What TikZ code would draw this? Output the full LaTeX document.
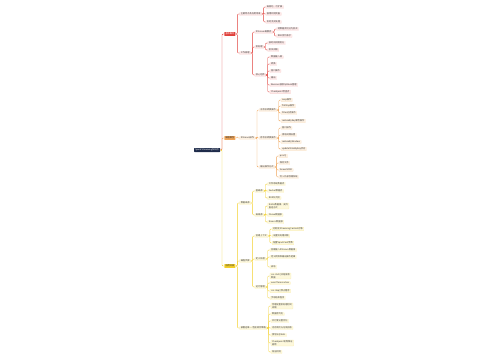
\documentclass[tikz,border=0pt]{standalone}
\usepackage{fontspec}
\setmainfont{Noto Sans CJK SC}
\usetikzlibrary{calc}
\definecolor{cred}{HTML}{E0413C}
\definecolor{cora}{HTML}{EFA55A}
\definecolor{cyel}{HTML}{F2CF2A}
\definecolor{croot}{HTML}{1E2B4A}
\definecolor{pred}{HTML}{FDE9E8}
\definecolor{pora}{HTML}{FDF1E2}
\definecolor{pyel}{HTML}{FDF8DC}
\newcommand\kid[6]{\node[#1] (#3) at ([xshift=4pt]#4.east |- 0,#5) {#6};
  \draw[#2] (#4.east) -- ++(1.8,0) |- (#3.west);}
\begin{document}
\begin{tikzpicture}[x=1pt,y=-1pt,
  base/.style={anchor=west,font=\fontsize{2.2}{2.7}\selectfont,inner xsep=1.1pt,inner ysep=0.6pt,rounded corners=0.4pt,text=black!75,align=left},
  lr/.style={base,fill=pred,draw=cred!25,line width=0.15pt},
  lo/.style={base,fill=pora,draw=cora!30,line width=0.15pt},
  ly/.style={base,fill=pyel,draw=cyel!40,line width=0.15pt},
  br/.style={base,fill=cred,text=white,inner ysep=0.8pt},
  bo/.style={base,fill=cora,text=black!80,inner ysep=0.8pt},
  by/.style={base,fill=cyel,text=black!80,inner ysep=0.8pt},
  er/.style={draw=cred,line width=0.4pt,rounded corners=1pt},
  eo/.style={draw=cora,line width=0.4pt,rounded corners=1pt},
  ey/.style={draw=cyel,line width=0.4pt,rounded corners=1pt}]
\useasboundingbox (0,0) rectangle (500,360);
\node[base,fill=croot,text=white,inner ysep=0.8pt] (root) at (194,150) {Spark Streaming知识点};
% red branch
\kid{br}{er}{R}{root}{34}{基本概念}
\kid{lr}{er}{A1}{R}{14}{主要特点及应用场景}
\kid{lr}{er}{A11}{A1}{7}{高吞吐、可扩展}
\kid{lr}{er}{A12}{A1}{14}{容错机制完善}
\kid{lr}{er}{A13}{A1}{22}{实时流式处理}
\kid{lr}{er}{A2}{R}{53}{工作原理}
\kid{lr}{er}{A2a}{A2}{32}{DStream离散流}
\kid{lr}{er}{A2a1}{A2a}{29}{将数据流切分为批次}
\kid{lr}{er}{A2a2}{A2a}{36}{RDD序列表示}
\kid{lr}{er}{A2b}{A2}{47}{批处理}
\kid{lr}{er}{A2b1}{A2b}{43}{按时间间隔划分}
\kid{lr}{er}{A2b2}{A2b}{50}{批次间隔}
\kid{lr}{er}{A2c}{A2}{75}{核心组件}
\kid{lr}{er}{A2c1}{A2c}{57}{数据输入源}
\kid{lr}{er}{A2c2}{A2c}{64}{转换}
\kid{lr}{er}{A2c3}{A2c}{71}{窗口操作}
\kid{lr}{er}{A2c4}{A2c}{78}{输出}
\kid{lr}{er}{A2c5}{A2c}{85}{Receiver接收与Block管理}
\kid{lr}{er}{A2c6}{A2c}{92}{Checkpoint检查点}
% orange branch
\kid{bo}{eo}{O}{root}{138}{编程模型}
\kid{lo}{eo}{B1}{O}{138}{DStream操作}
\kid{lo}{eo}{B1a}{B1}{110}{无状态转换操作}
\kid{lo}{eo}{B1a1}{B1a}{100}{map操作}
\kid{lo}{eo}{B1a2}{B1a}{106}{flatMap操作}
\kid{lo}{eo}{B1a3}{B1a}{113}{filter过滤操作}
\kid{lo}{eo}{B1a4}{B1a}{121}{reduceByKey聚合操作}
\kid{lo}{eo}{B1b}{B1}{138}{有状态转换操作}
\kid{lo}{eo}{B1b1}{B1b}{128}{窗口操作}
\kid{lo}{eo}{B1b2}{B1b}{135}{滑动间隔设置}
\kid{lo}{eo}{B1b3}{B1b}{142}{reduceByWindow}
\kid{lo}{eo}{B1b4}{B1b}{149}{updateStateByKey状态}
\kid{lo}{eo}{B1c}{B1}{167}{输出操作方式}
\kid{lo}{eo}{B1c1}{B1c}{156}{print()}
\kid{lo}{eo}{B1c2}{B1c}{163}{保存文件}
\kid{lo}{eo}{B1c3}{B1c}{170}{foreachRDD}
\kid{lo}{eo}{B1c4}{B1c}{177}{写入外部存储系统}
% yellow branch
\kid{by}{ey}{Y}{root}{266}{应用开发}
\kid{ly}{ey}{C1}{Y}{203}{数据来源}
\kid{ly}{ey}{C1a}{C1}{191}{基础源}
\kid{ly}{ey}{C1a1}{C1a}{184}{文件系统数据流}
\kid{ly}{ey}{C1a2}{C1a}{191}{Socket数据流}
\kid{ly}{ey}{C1a3}{C1a}{198}{RDD队列流}
\kid{ly}{ey}{C1b}{C1}{215}{高级源}
\kid{ly}{ey}{C1b1}{C1b}{206}{Kafka数据源，支持\\直连方式}
\kid{ly}{ey}{C1b2}{C1b}{215}{Flume数据源}
\kid{ly}{ey}{C1b3}{C1b}{222}{Kinesis数据源}
\kid{ly}{ey}{C2}{Y}{261}{编程步骤}
\kid{ly}{ey}{C2a}{C2}{236}{创建上下文}
\kid{ly}{ey}{C2a1}{C2a}{229}{初始化StreamingContext对象}
\kid{ly}{ey}{C2a2}{C2a}{236}{设置批处理间隔}
\kid{ly}{ey}{C2a3}{C2a}{243}{配置SparkConf参数}
\kid{ly}{ey}{C2b}{C2}{259}{定义处理}
\kid{ly}{ey}{C2b1}{C2b}{250}{创建输入DStream数据源}
\kid{ly}{ey}{C2b2}{C2b}{257}{定义转换和输出操作逻辑}
\kid{ly}{ey}{C2b3}{C2b}{267}{启动}
\kid{ly}{ey}{C2c}{C2}{287}{运行管理}
\kid{ly}{ey}{C2c1}{C2c}{276}{ssc.start()开始接收\\数据}
\kid{ly}{ey}{C2c2}{C2c}{283}{awaitTermination}
\kid{ly}{ey}{C2c3}{C2c}{291}{ssc.stop()停止程序}
\kid{ly}{ey}{C2c4}{C2c}{298}{手动结束程序}
\kid{ly}{ey}{C3}{Y}{328}{部署运维 — 性能调优策略}
\kid{ly}{ey}{C31}{C3}{306}{合理设置批处理时间\\间隔}
\kid{ly}{ey}{C32}{C3}{314}{数据序列化}
\kid{ly}{ey}{C33}{C3}{321}{并行度设置优化}
\kid{ly}{ey}{C34}{C3}{328}{内存调优与垃圾回收}
\kid{ly}{ey}{C35}{C3}{335}{预写日志WAL}
\kid{ly}{ey}{C36}{C3}{343}{Checkpoint机制保证\\容错}
\kid{ly}{ey}{C37}{C3}{352}{背压机制}
\end{tikzpicture}
\end{document}
